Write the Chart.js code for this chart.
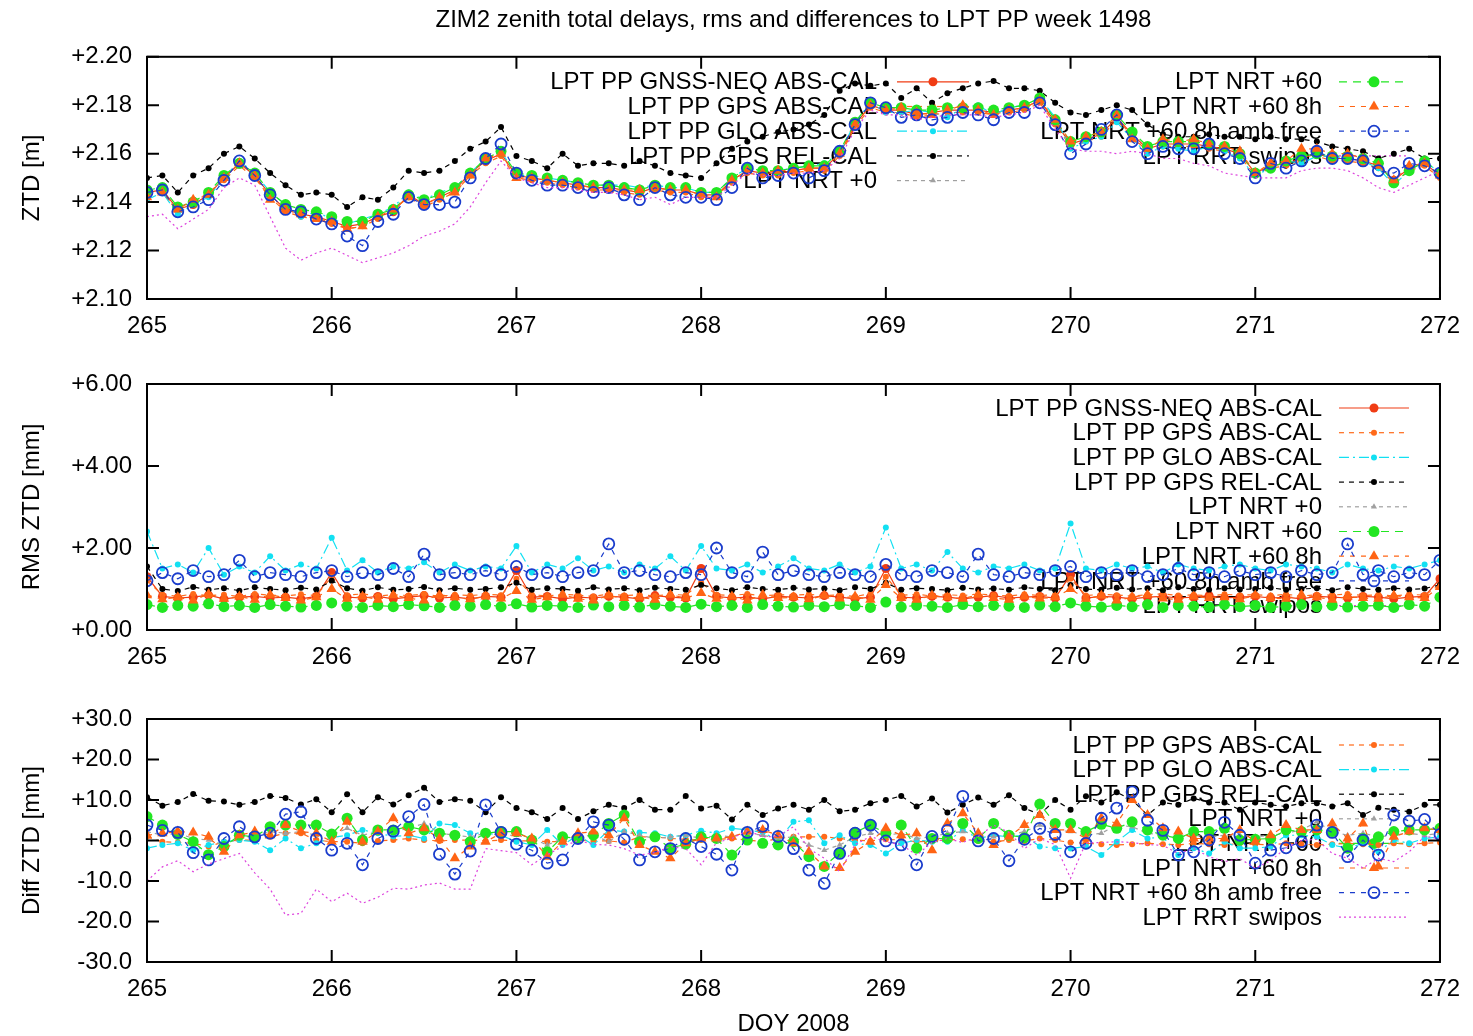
<!DOCTYPE html>
<html>
<head>
<meta charset="utf-8">
<title>ZIM2 zenith total delays</title>
<script src="https://cdn.jsdelivr.net/npm/chart.js@4.4.1/dist/chart.umd.min.js"></script>
<style>
  html, body { margin: 0; padding: 0; background: #fff; }
  #wrap { position: relative; width: 1473px; height: 1036px; overflow: hidden; background: #fff; }
  canvas { position: absolute; left: 0; }
</style>
</head>
<body>
<div id="wrap">
  <canvas id="ztdChart" width="1473" height="339" style="top:0;width:1473px;height:339px"></canvas>
  <canvas id="rmsChart" width="1473" height="330" style="top:340px;width:1473px;height:330px"></canvas>
  <canvas id="diffChart" width="1473" height="366" style="top:670px;width:1473px;height:366px"></canvas>
</div>
<script>
// 2-hourly samples, DOY 265.0 .. 272.0

// === ZTD [mm] ===
const ztdNeq = [
  2144,2145,2137,2139,2143,2150,2156,2151,2143,2137,2135,2134,
  2132,2130,2131,2134,2136,2143,2139,2142,2145,2152,2157,2160,
  2151,2150,2149,2148,2147,2146,2146,2145,2144,2146,2145,2145,
  2143,2143,2149,2153,2152,2152,2153,2154,2154,2160,2172,2180,
  2178,2178,2176,2177,2178,2178,2178,2177,2178,2179,2182,2173,
  2164,2166,2168,2175,2168,2162,2164,2164,2164,2163,2162,2160,
  2152,2155,2156,2158,2160,2158,2158,2157,2155,2149,2154,2156,
  2151];
const ztdGps = [
  2143,2144,2136,2140,2144,2149,2155,2150,2142,2136,2134,2133,
  2131,2129,2130,2133,2137,2142,2138,2141,2144,2151,2156,2159,
  2150,2149,2148,2147,2146,2145,2145,2144,2143,2145,2144,2144,
  2142,2142,2148,2152,2151,2151,2152,2153,2153,2159,2171,2179,
  2177,2177,2175,2176,2177,2177,2177,2176,2177,2178,2181,2172,
  2163,2165,2167,2174,2167,2161,2163,2163,2163,2162,2161,2159,
  2151,2154,2155,2157,2159,2157,2157,2156,2154,2148,2153,2155,
  2150];
const ztdGlo = [
  2141,2144,2135,2139,2142,2150,2157,2152,2144,2139,2134,2136,
  2133,2131,2133,2135,2138,2144,2141,2144,2146,2152,2158,2161,
  2151,2151,2150,2149,2148,2147,2147,2147,2146,2147,2146,2146,
  2144,2144,2150,2154,2153,2153,2154,2155,2156,2160,2173,2181,
  2177,2177,2178,2177,2175,2179,2180,2176,2179,2180,2183,2175,
  2162,2165,2167,2173,2166,2160,2163,2162,2161,2163,2161,2158,
  2151,2154,2157,2156,2159,2159,2158,2157,2154,2147,2153,2157,
  2152];
const ztdRel = [
  2150,2151,2144,2151,2154,2160,2163,2158,2152,2147,2143,2144,
  2143,2138,2142,2141,2146,2153,2152,2153,2157,2162,2165,2171,
  2159,2157,2154,2160,2155,2156,2156,2155,2157,2155,2152,2151,
  2150,2156,2162,2165,2167,2169,2170,2172,2176,2186,2189,2188,
  2189,2183,2187,2181,2185,2187,2189,2190,2187,2187,2186,2181,
  2177,2176,2178,2180,2178,2172,2168,2167,2167,2168,2167,2167,
  2166,2167,2166,2166,2165,2163,2162,2161,2158,2160,2162,2158,
  2158];
const ztdNrt0 = [];
const ztdNrt60 = [
  2145,2146,2138,2140,2144,2151,2156,2152,2144,2139,2137,2136,
  2134,2132,2132,2135,2137,2143,2141,2143,2146,2152,2158,2161,
  2152,2151,2150,2149,2148,2147,2147,2146,2145,2147,2146,2146,
  2144,2144,2150,2154,2153,2153,2154,2155,2155,2161,2173,2181,
  2179,2179,2178,2178,2179,2179,2179,2178,2179,2180,2183,2174,
  2165,2167,2169,2176,2169,2163,2165,2165,2165,2164,2163,2160,
  2152,2154,2157,2159,2160,2159,2159,2158,2156,2148,2153,2157,
  2152];
const ztdNrt8h = [
  2142,2144,2137,2141,2143,2150,2156,2151,2141,2137,2135,2133,
  2132,2129,2130,2134,2137,2142,2139,2142,2144,2151,2158,2160,
  2150,2150,2149,2148,2147,2146,2145,2145,2145,2146,2145,2145,
  2143,2142,2149,2153,2152,2153,2153,2154,2154,2160,2172,2180,
  2178,2179,2177,2176,2178,2180,2178,2176,2178,2179,2182,2174,
  2165,2167,2169,2176,2166,2162,2166,2165,2166,2164,2163,2161,
  2152,2156,2157,2162,2162,2160,2160,2158,2155,2149,2155,2156,
  2151];
const ztdAmb = [
  2144,2145,2136,2138,2141,2149,2157,2151,2143,2137,2136,2133,
  2131,2126,2122,2132,2135,2142,2139,2139,2140,2150,2158,2164,
  2152,2149,2147,2147,2146,2144,2146,2143,2141,2146,2143,2142,
  2142,2141,2146,2154,2150,2151,2152,2150,2153,2161,2172,2181,
  2179,2175,2176,2174,2175,2177,2176,2174,2177,2177,2181,2172,
  2160,2164,2170,2176,2165,2160,2163,2162,2162,2164,2160,2158,
  2150,2156,2154,2157,2161,2158,2158,2157,2153,2152,2156,2155,
  2152];
const ztdRrt = [
  2134,2135,2129,2133,2137,2146,2150,2147,2134,2121,2116,2119,
  2121,2118,2115,2117,2119,2122,2126,2128,2131,2138,2148,2157,
  2150,2148,2146,2146,2145,2144,2144,2143,2141,2142,2139,2142,
  2142,2142,2147,2152,2151,2151,2152,2152,2153,2158,2170,2178,
  2176,2176,2174,2175,2176,2176,2176,2175,2176,2177,2180,2170,
  2162,2161,2161,2160,2161,2160,2158,2158,2156,2155,2152,2151,
  2150,2150,2150,2153,2154,2154,2153,2150,2146,2144,2147,2150,
  2153];

// === RMS ZTD [mm] ===
const rmsNeq = [
  1.3,0.82,0.78,0.8,0.85,0.76,0.8,0.82,0.78,0.8,0.76,0.82,
  1.4,0.8,0.78,0.82,0.76,0.8,0.84,0.78,0.8,0.76,0.82,0.8,
  1.45,0.8,0.82,0.76,0.8,0.78,0.82,0.8,0.76,0.84,0.8,0.78,
  1.5,0.82,0.78,0.8,0.76,0.82,0.8,0.78,0.84,0.8,0.76,0.8,
  1.5,0.8,0.78,0.82,0.8,0.76,0.8,0.84,0.78,0.8,0.82,0.78,
  1.35,0.78,0.82,0.8,0.76,0.8,0.82,0.78,0.8,0.84,0.78,0.8,
  0.82,0.78,0.8,0.76,0.82,0.8,0.78,0.82,0.8,0.76,0.8,0.82,
  1.25];
const rmsGps = [
  1.2,0.86,0.82,0.88,0.84,0.86,0.82,0.88,0.85,0.83,0.87,0.84,
  1.3,0.85,0.88,0.83,0.86,0.84,0.88,0.82,0.86,0.84,0.87,0.85,
  1.25,0.86,0.83,0.87,0.85,0.82,0.88,0.84,0.86,0.83,0.87,0.85,
  1.15,0.86,0.84,0.88,0.83,0.86,0.85,0.87,0.84,0.86,0.82,0.88,
  1.3,0.85,0.87,0.83,0.86,0.84,0.88,0.85,0.83,0.87,0.84,0.86,
  1.25,0.84,0.87,0.85,0.83,0.86,0.88,0.84,0.86,0.83,0.87,0.85,
  0.86,0.84,0.87,0.83,0.86,0.85,0.88,0.84,0.86,0.83,0.87,0.85,
  1.1];
const rmsGlo = [
  2.4,1.5,1.6,1.4,2.0,1.35,1.55,1.4,1.8,1.45,1.6,1.5,
  2.25,1.45,1.7,1.4,1.55,1.5,1.65,1.4,1.6,1.45,1.55,1.5,
  2.05,1.4,1.6,1.5,1.75,1.45,1.55,1.4,1.6,1.5,1.8,1.45,
  2.05,1.5,1.45,1.6,1.4,1.55,1.75,1.5,1.45,1.6,1.4,1.55,
  2.5,1.5,1.6,1.45,1.9,1.5,1.4,1.55,1.5,1.6,1.45,1.5,
  2.6,1.5,1.45,1.6,1.5,1.55,1.4,1.6,1.5,1.45,1.55,1.6,
  1.5,1.45,1.6,1.55,1.5,1.4,1.6,1.5,1.45,1.55,1.5,1.6,
  1.7];
const rmsRel = [
  1.55,1.0,0.95,1.05,0.98,1.02,0.96,1.04,1.0,0.97,1.03,0.99,
  1.2,1.02,0.96,1.04,0.98,1.0,1.05,0.97,1.02,0.98,1.0,1.04,
  1.15,0.98,1.02,1.0,0.96,1.04,0.99,1.02,0.97,1.03,1.0,0.98,
  1.1,1.02,0.97,1.04,1.0,0.98,1.03,0.99,1.01,0.97,1.04,1.0,
  1.15,0.98,1.02,1.0,0.97,1.03,0.99,1.01,0.98,1.04,1.0,0.97,
  1.1,1.0,0.98,1.03,0.99,1.02,0.97,1.04,1.0,0.98,1.02,0.99,
  1.0,1.03,0.98,1.0,1.02,0.97,1.04,1.0,0.98,1.02,0.99,1.01,
  1.1];
const rmsNrt0 = [];
const rmsNrt60 = [
  0.62,0.55,0.6,0.58,0.64,0.57,0.6,0.55,0.62,0.58,0.56,0.6,
  0.66,0.58,0.55,0.6,0.57,0.62,0.59,0.55,0.6,0.58,0.62,0.57,
  0.64,0.56,0.6,0.58,0.55,0.61,0.57,0.6,0.56,0.62,0.58,0.55,
  0.63,0.57,0.6,0.55,0.62,0.58,0.56,0.6,0.57,0.62,0.59,0.55,
  0.68,0.56,0.6,0.58,0.55,0.62,0.57,0.6,0.58,0.55,0.61,0.57,
  0.66,0.58,0.56,0.6,0.57,0.62,0.55,0.6,0.58,0.56,0.62,0.57,
  0.6,0.55,0.58,0.62,0.57,0.6,0.56,0.58,0.6,0.55,0.62,0.58,
  0.8];
const rmsNrt8h = [
  0.85,0.75,0.8,0.72,0.88,0.76,0.82,0.74,0.86,0.78,0.72,0.8,
  1.0,0.76,0.82,0.74,0.85,0.78,0.72,0.86,0.8,0.75,0.82,0.77,
  0.95,0.74,0.8,0.86,0.76,0.72,0.84,0.78,0.8,0.74,0.86,0.78,
  0.9,0.76,0.82,0.72,0.86,0.78,0.8,0.75,0.84,0.77,0.82,0.74,
  1.1,0.78,0.74,0.84,0.8,0.76,0.86,0.78,0.74,0.82,0.77,0.8,
  1.0,0.76,0.84,0.72,0.8,0.86,0.77,0.74,0.82,0.78,0.8,0.75,
  0.84,0.78,0.76,0.86,0.8,0.74,0.82,0.78,0.76,0.84,0.8,0.78,
  1.05];
const rmsAmb = [
  1.2,1.4,1.25,1.45,1.3,1.35,1.7,1.3,1.4,1.35,1.3,1.4,
  1.45,1.3,1.4,1.35,1.5,1.3,1.85,1.35,1.4,1.35,1.45,1.35,
  1.55,1.35,1.4,1.3,1.4,1.45,2.1,1.4,1.45,1.35,1.3,1.4,
  1.35,2.0,1.4,1.3,1.9,1.35,1.45,1.35,1.3,1.4,1.35,1.3,
  1.6,1.35,1.3,1.45,1.4,1.3,1.85,1.35,1.3,1.4,1.35,1.45,
  1.55,1.3,1.4,1.35,1.45,1.3,1.35,1.5,1.35,1.4,1.3,1.45,
  1.35,1.4,1.3,1.45,1.35,1.4,2.1,1.35,1.45,1.3,1.4,1.35,
  1.7];
const rmsRrt = [];

// === Diff ZTD [mm] ===
const diffNeq = [];
const diffGps = [
  0.9,-0.3,-0.5,-0.7,-1.5,-0.3,0.1,0.1,0.9,1.8,1.8,0.1,
  -0.3,-0.3,-0.7,-0.1,0.1,0.5,0.1,-0.1,0.1,0.1,-0.1,0.1,
  -0.1,-0.1,-0.3,-0.3,0.1,-0.1,-0.1,-0.5,0.9,0.9,0.5,0.3,
  0.1,0.3,0.5,0.1,-0.3,0.5,0.9,0.9,0.9,0.5,0.1,-0.1,
  0.3,0.1,-0.3,-0.1,0.1,0.3,-0.1,-0.3,0.1,-0.1,0.5,0.1,
  -0.5,-0.7,-0.9,-1.1,-0.9,-0.7,-0.9,-1.1,-0.7,-0.9,-1.1,-0.7,
  -0.9,-1.1,-0.7,-0.9,-1.1,-0.9,-0.7,-0.9,-1.1,-0.7,-0.9,-0.7,
  -0.5];
const diffGlo = [
  -1.9,-1.1,-0.7,-2.4,-1.1,-0.3,0.1,-0.3,-2.4,0.5,-1.9,-0.7,
  0.7,1.3,2.6,1.8,1,1.3,0.5,4.2,3.8,1.8,1.8,1.3,
  -0.3,-1.1,2.6,-1.1,1.3,-1.1,2.6,2.2,2,1.8,0.9,1.3,
  2.4,1.8,3,2.6,2,0.1,4.6,5,-0.7,1.3,-0.7,-1.1,
  -3.2,-0.7,0.1,-0.3,-0.3,2.6,0.5,1.3,0.9,1.3,-1.5,-1.9,
  -2,-1.5,-3.6,-0.3,2.6,0.5,0.9,-3.6,-1.9,-3.2,-0.3,-1.9,
  -1.9,-1.5,1.3,1.3,0.9,-1.1,-1.9,-0.7,-2.8,0.1,-0.7,0.5,
  0.9];
const diffRel = [
  10.7,8.6,9.5,11.5,9.8,9.6,8.8,9.5,11,10.5,8.9,10.2,
  7,11.4,7,10.7,8.9,11.2,13,9.5,10.2,9.8,7,10.7,
  8,7,5.3,8,5.3,7.2,8.8,8,10,7.6,7.6,11,
  7.9,8.6,5.2,8.8,6.3,7.9,8.8,7.6,10,7.2,7.6,9.2,
  10,11,8.4,10.4,6.9,8.8,10.6,8.8,11.2,8,6.4,10,
  7.6,10.9,9.4,11.9,10,6.3,9.4,8.8,10.4,9.4,9.4,7.6,
  9.4,8.8,8.4,9.2,9.2,8.4,9.2,6.3,8.1,7.6,7.1,8.8,
  8.8];
const diffNrt0 = [
  2.2,1.3,1.8,0.5,0.1,-1.1,0.5,1.3,2.2,1.8,2.2,1.3,
  1.3,3,1.3,2.2,2.2,3,4.2,1.8,1.3,0.9,1.8,1.3,
  1.3,0.5,-1.1,0.5,0.9,1.3,-0.3,2.2,1.3,0.5,0.9,1.3,
  0.5,1.3,0.9,1.8,1.3,0.5,0.9,-1.1,-2.4,-1.1,0.9,1.8,
  1.3,1.8,0.5,0.9,1.8,2.2,1.3,0.9,1.3,2.2,3.8,2.6,
  2.2,1.3,1.8,3.8,3.4,1.8,1.3,0.9,1.3,0.9,1.3,1.3,
  0.9,1.3,1.8,2.6,4.6,2.2,1.3,1.8,0.9,1.3,1.8,1.3,
  1.8];
const diffNrt60 = [
  5.9,3.8,1.5,-0.3,-3.5,-1.5,1.3,0.9,3.4,3.8,3.8,3.8,
  1.6,5.5,0.1,2.6,2.6,3.4,2.6,1.8,1.3,-0.3,1.8,2.2,
  2.2,0.1,-2.8,0.9,0.5,1.3,4.2,6.3,-0.3,0.9,-1.9,-0.9,
  0.9,0.5,-3.6,0.1,-0.7,-1.1,-0.3,-4,-6.4,-3,2,3.8,
  1.8,3.8,-1.9,0.5,0.5,4.2,0.5,4.2,1.3,0.7,9,4.2,
  4.2,2.2,4,3,4.6,2.6,1.3,0.5,2.2,2.2,3,0.1,
  0.3,0.5,2.6,2.2,2.6,2.2,-1.9,0.5,0.9,2.2,2.6,2.6,
  3];
const diffNrt8h = [
  1.3,1.8,2.2,2,0.9,-2.8,1.3,2.2,1.3,3.8,2.2,1.8,
  -0.3,4.6,-0.3,2.2,5.5,1.8,3,0.5,-4.4,-1.5,-0.3,1.8,
  1.8,0.5,-4,-0.3,1.8,2.2,1.3,5.5,-1.1,-2.8,-4.4,-0.7,
  0.5,0.5,0.9,2.2,2.6,1.3,-0.7,-2.8,-6.4,-6.8,-2.8,-0.3,
  3,1.3,1.8,-2.4,4.2,6.7,1.8,-1.1,0.9,3.8,6.3,2.6,
  2.6,0.5,5.5,4.2,10,6.3,3,2.2,0.5,0.5,0.5,2.6,
  -0.3,1.3,3.8,2.6,2.6,4.2,0.5,4.2,-6.4,0.9,2.2,3,
  2.6];
const diffAmb = [
  3.8,2.5,2,-3,-4.8,0.5,3.4,0.9,1.8,6.5,7.1,0.5,
  -2.4,-0.7,-6,0.5,2.3,5.9,8.9,-3.4,-8.3,-2.6,8.8,2,
  -0.9,-2.4,-5.6,-4.8,0.5,4.6,3.8,0.3,-4.8,-2.8,-2,0.5,
  -1.5,-3.4,-7.3,2,3.5,1,-2,-7.3,-10.6,-3.2,1.8,3.8,
  -0.1,-1.1,-6,1,2.5,10.9,-0.1,0.5,-5,0.3,3,1.5,
  -2.8,-0.7,5.5,8,12,5,2.5,-3.6,-2.8,0.1,4.5,1.3,
  -5.6,-2.4,-1.8,-0.3,3.8,2,-4,0.1,-3.6,6.3,4.8,5.2,
  1.5];
const diffRrt = [
  -10,-6.5,-5,-7.7,-5.8,-4.5,-3.2,-8,-12,-18.4,-18,-12,
  -15.1,-13,-15.5,-14,-11.8,-12,-11,-10.5,-12,-12,-2,-2.5,
  -3,-6,-3.5,-1.5,0,-1,-1.1,-2,-3.6,-3,-1.5,-2,
  -6,-0.5,0.5,2.5,0.9,1,3.4,-2,-4.4,-7.7,-1,1,
  -0.3,-1,-3.6,-0.5,0.5,-0.5,1,3.8,2,-2,0.5,-1,
  -9.3,-0.5,-0.5,-0.3,-0.5,-1,-1.2,-3.2,-2,-4,-5.2,-4.5,
  -6.8,-5,-1.8,0,0.3,-3.2,-4.4,-6.8,-4.4,-5.2,-2.8,1,
  0.5];

const FONT = '"Liberation Sans", Arial, Helvetica, sans-serif';
Chart.defaults.font.family = FONT;
Chart.defaults.font.size = 24;
Chart.defaults.color = '#000';

const doy = ztdNeq.map((_, k) => 265 + k * 2 / 24);

const styles = [
  { label: 'LPT PP GNSS-NEQ ABS-CAL', color: '#f03c14', dash: [], point: 'circle', r: 4.5 },
  { label: 'LPT PP GPS ABS-CAL', color: '#ff6a1a', dash: [5, 5], point: 'circle', r: 3 },
  { label: 'LPT PP GLO ABS-CAL', color: '#12e0f2', dash: [10, 4, 2, 4], point: 'circle', r: 3 },
  { label: 'LPT PP GPS REL-CAL', color: '#000000', dash: [5, 5], point: 'circle', r: 3 },
  { label: 'LPT NRT +0', color: '#a0a0a0', dash: [4, 4], point: 'triangle', r: 3.5 },
  { label: 'LPT NRT +60', color: '#22e622', dash: [8, 6], point: 'circle', r: 5.5 },
  { label: 'LPT NRT +60 8h', color: '#ff6414', dash: [5, 6], point: 'triangle', r: 6 },
  { label: 'LPT NRT +60 8h amb free', color: '#1a3ccc', dash: [5, 6], point: 'circle', r: 5.5, open: true },
  { label: 'LPT RRT swipos', color: '#dd44dd', dash: [2, 3], point: 'circle', r: 0 }
];

function buildSets(seriesList, scale) {
  return styles.map((s, i) => ({
    label: s.label,
    data: seriesList[i].map((v, k) => ({ x: doy[k], y: v * scale })),
    borderColor: s.color,
    borderWidth: 1.2,
    borderDash: s.dash,
    pointStyle: s.point,
    pointRadius: s.r,
    pointBackgroundColor: s.open ? 'rgba(0,0,0,0)' : s.color,
    pointBorderColor: s.color,
    pointBorderWidth: s.open ? 1.8 : 0,
    open: !!s.open,
    fill: false,
    tension: 0,
    order: -i
  }));
}

function marker(ctx, ds, x, y) {
  const r = ds.pointRadius;
  ctx.save();
  ctx.setLineDash([]);
  ctx.beginPath();
  if (ds.pointStyle === 'triangle') {
    ctx.moveTo(x, y - r);
    ctx.lineTo(x + r * 0.866, y + r * 0.5);
    ctx.lineTo(x - r * 0.866, y + r * 0.5);
    ctx.closePath();
  } else {
    ctx.arc(x, y, r, 0, Math.PI * 2);
  }
  if (ds.open) {
    ctx.lineWidth = ds.pointBorderWidth;
    ctx.strokeStyle = ds.borderColor;
    ctx.stroke();
  } else {
    ctx.fillStyle = ds.borderColor;
    ctx.fill();
  }
  ctx.restore();
}

// key drawn inside the plot like gnuplot: text right aligned, sample on the right
const gnuplotKey = {
  id: 'gnuplotKey',
  beforeDatasetsDraw(chart, args, opts) {
    const { ctx, chartArea: a } = chart;
    ctx.save();
    ctx.font = '24px ' + FONT;
    ctx.textAlign = 'right';
    ctx.textBaseline = 'middle';
    opts.columns.forEach(col => {
      col.entries.forEach((dsIndex, row) => {
        const ds = chart.data.datasets[dsIndex];
        const y = a.top + opts.top + row * opts.step;
        ctx.fillStyle = '#000';
        ctx.fillText(ds.label, a.right + col.text, y + 1);
        const x0 = a.right + col.sample[0], x1 = a.right + col.sample[1];
        ctx.setLineDash(ds.borderDash);
        ctx.strokeStyle = ds.borderColor;
        ctx.lineWidth = ds.borderWidth;
        ctx.beginPath();
        ctx.moveTo(x0, y);
        ctx.lineTo(x1, y);
        ctx.stroke();
        if (ds.pointRadius > 0) marker(ctx, ds, (x0 + x1) / 2, y);
      });
    });
    ctx.restore();
  }
};

// border box and inward ticks on all four sides
const gnuplotFrame = {
  id: 'gnuplotFrame',
  afterDatasetsDraw(chart) {
    const { ctx, chartArea: a, scales } = chart;
    const len = 12;
    ctx.save();
    ctx.setLineDash([]);
    ctx.strokeStyle = '#000';
    ctx.lineWidth = 2;
    ctx.beginPath();
    scales.x.ticks.forEach(t => {
      const px = scales.x.getPixelForValue(t.value);
      ctx.moveTo(px, a.bottom); ctx.lineTo(px, a.bottom - len);
      ctx.moveTo(px, a.top); ctx.lineTo(px, a.top + len);
    });
    scales.y.ticks.forEach(t => {
      const py = scales.y.getPixelForValue(t.value);
      ctx.moveTo(a.left, py); ctx.lineTo(a.left + len, py);
      ctx.moveTo(a.right, py); ctx.lineTo(a.right - len, py);
    });
    ctx.stroke();
    ctx.strokeRect(a.left, a.top, a.right - a.left, a.bottom - a.top);
    ctx.restore();
  }
};

function signed(digits) {
  return v => (v >= 0 ? '+' : '') + Number(v).toFixed(digits);
}

function panelOptions(o) {
  return {
    responsive: false,
    animation: false,
    devicePixelRatio: 1,
    events: [],
    layout: { padding: { top: o.padTop, right: 32, left: 0, bottom: 0 } },
    plugins: {
      legend: { display: false },
      tooltip: { enabled: false },
      title: o.title || { display: false },
      gnuplotKey: o.key
    },
    scales: {
      x: {
        type: 'linear', min: 265, max: 272,
        grid: { display: false, drawTicks: false },
        border: { display: false },
        ticks: { stepSize: 1, padding: 13, maxRotation: 0, autoSkip: false, callback: v => String(v) },
        title: o.xTitle || { display: false },
        afterFit: s => { s.height = o.xHeight; }
      },
      y: {
        type: 'linear', min: o.yMin, max: o.yMax,
        grid: { display: false, drawTicks: false },
        border: { display: false },
        ticks: { stepSize: o.yStep, padding: 15, autoSkip: false, callback: o.fmt },
        title: { display: true, text: o.yTitle, padding: { top: 18, bottom: 0 } },
        afterFit: s => { s.width = 147; }
      }
    }
  };
}

const rightCol = { text: -118, sample: [-101, -31] };

new Chart(document.getElementById('ztdChart'), {
  type: 'line',
  data: { datasets: buildSets([ztdNeq, ztdGps, ztdGlo, ztdRel, ztdNrt0, ztdNrt60, ztdNrt8h, ztdAmb, ztdRrt], 0.001) },
  options: panelOptions({
    padTop: 0, xHeight: 40, yMin: 2.10, yMax: 2.20, yStep: 0.02, fmt: signed(2), yTitle: 'ZTD [m]',
    title: {
      display: true, fullSize: false,
      text: 'ZIM2 zenith total delays, rms and differences to LPT PP week 1498',
      font: { size: 24, weight: 'normal' }, color: '#000',
      padding: { top: 6, bottom: 22 }
    },
    key: {
      top: 25, step: 24.7,
      columns: [
        { text: -563, sample: [-543, -471], entries: [0, 1, 2, 3, 4] },
        Object.assign({ entries: [5, 6, 7, 8] }, rightCol)
      ]
    }
  }),
  plugins: [gnuplotKey, gnuplotFrame]
});

new Chart(document.getElementById('rmsChart'), {
  type: 'line',
  data: { datasets: buildSets([rmsNeq, rmsGps, rmsGlo, rmsRel, rmsNrt0, rmsNrt60, rmsNrt8h, rmsAmb, rmsRrt], 1) },
  options: panelOptions({
    padTop: 44, xHeight: 40, yMin: 0, yMax: 6, yStep: 2, fmt: signed(2), yTitle: 'RMS ZTD [mm]',
    key: { top: 24, step: 24.7, columns: [Object.assign({ entries: [0, 1, 2, 3, 4, 5, 6, 7, 8] }, rightCol)] }
  }),
  plugins: [gnuplotKey, gnuplotFrame]
});

new Chart(document.getElementById('diffChart'), {
  type: 'line',
  data: { datasets: buildSets([diffNeq, diffGps, diffGlo, diffRel, diffNrt0, diffNrt60, diffNrt8h, diffAmb, diffRrt], 1) },
  options: panelOptions({
    padTop: 49, xHeight: 74, yMin: -30, yMax: 30, yStep: 10, fmt: signed(1), yTitle: 'Diff ZTD [mm]',
    xTitle: { display: true, text: 'DOY 2008', padding: { top: 0, bottom: -3 } },
    key: { top: 26, step: 24.6, columns: [Object.assign({ entries: [1, 2, 3, 4, 5, 6, 7, 8] }, rightCol)] }
  }),
  plugins: [gnuplotKey, gnuplotFrame]
});
</script>
</body>
</html>
